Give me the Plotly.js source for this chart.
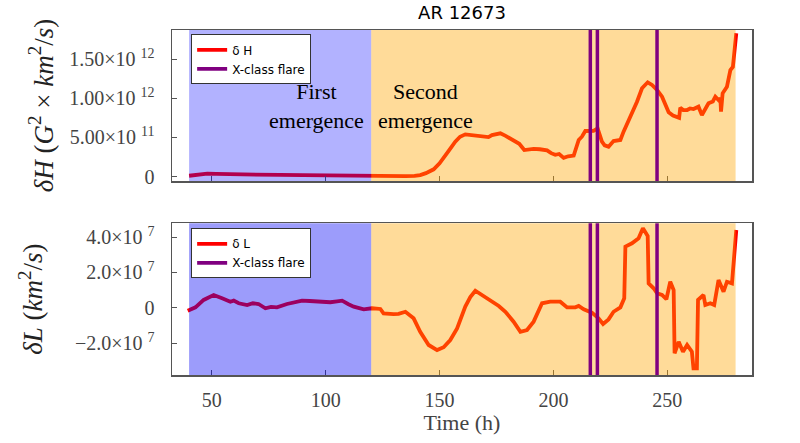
<!DOCTYPE html>
<html>
<head>
<meta charset="utf-8">
<script src="https://cdn.plot.ly/plotly-3.0.1.min.js"></script>
<style>html,body{margin:0;padding:0;background:#fff;}#chart{width:800px;height:443px;}</style>
</head>
<body>
<div id="chart"></div>
<script>
// ---- data ----
const timeH = [40,44,48,52,60,70,80,90,100,110,120,125,130,135,139,141.5,144,147.4,150,151.8,154,156.9,159,161.3,164,166.4,169,171.5,173,174.5,176.7,179,182.5,185,187.2,189,191.3,194,197.2,199,200.8,202.5,204.5,206.5,208.9,211.1,212.5,214,216,217.6,219.4,221.3,222.5,224.2,226.4,229.4,230.8,233.8,236.7,238.9,241.4,243.3,245.5,247.7,250.6,252.5,254.3,255.2,255.7,257,258.7,260,261.5,263.7,265.2,266.5,268.1,270,271.1,272.5,273.3,273.6,274.3,276.2,277,277.7,278.8,279.5,280.3];
const deltaH = [1.2e10,3.0e10,3.8e10,3.5e10,2.8e10,2.5e10,2.2e10,2.0e10,1.5e10,1.0e10,1.0e10,0.5e10,0.5e10,0.6e10,1.0e10,2.0e10,4.5e10,9.4e10,1.7e11,2.35e11,3.3e11,4.47e11,5.1e11,5.4e11,5.3e11,5.23e11,5.2e11,5.05e11,5.3e11,5.35e11,5.53e11,5.2e11,4.68e11,4.2e11,3.4e11,3.5e11,3.55e11,3.5e11,3.35e11,3.0e11,2.8e11,2.9e11,2.4e11,2.6e11,2.7e11,4.68e11,5.1e11,5.83e11,5.8e11,5.85e11,6.17e11,4.47e11,4.0e11,3.83e11,4.55e11,4.68e11,5.74e11,7.65e11,9.57e11,1.128e12,1.204e12,1.17e12,1.106e12,1.02e12,8.21e11,7.8e11,7.65e11,7.5e11,8.8e11,8.5e11,8.5e11,8.7e11,8.63e11,8.93e11,7.87e11,8.6e11,9.36e11,9.6e11,1.02e12,9.78e11,1.0e12,8.29e11,1.064e12,1.148e12,1.25e12,1.36e12,1.40e12,1.6e12,1.83e12];

const timeL = [39.4,42.8,46.4,50.8,54.5,58.1,59.6,61.8,65.5,68,70.5,73.5,76,78.6,83,86,89.6,93,96.2,99,102,105,107.2,110,112.3,116.7,120.3,124,125.4,129.8,132,135,138.6,141.5,145.2,148.9,151.8,154.7,157.7,161.3,163.5,165.7,168.6,171,173.7,176,178.9,182.5,185.5,188.4,191.3,195,198.6,201.6,203,206,209.6,211.1,213.3,216.9,219.8,221.8,224.2,226.4,229.4,231.1,231.6,234.5,237.4,239.3,241.4,241.8,244,245.5,247.7,249.6,251.3,252.8,253.2,255,256.9,258.7,260.8,261.5,263,263.5,265.9,266.7,268.9,270.6,272.5,274.7,276.2,278.4,280.3];
const deltaL = [-0.17e7,0.02e7,0.44e7,0.72e7,0.53e7,0.34e7,0.40e7,0.25e7,0.15e7,0.25e7,0.21e7,-0.03e7,0.05e7,0.02e7,0.21e7,0.30e7,0.40e7,0.38e7,0.34e7,0.33e7,0.31e7,0.36e7,0.40e7,0.20e7,0.06e7,-0.09e7,-0.03e7,-0.07e7,-0.32e7,-0.36e7,-0.35e7,-0.23e7,-0.60e7,-1.36e7,-2.11e7,-2.40e7,-2.24e7,-1.83e7,-1.17e7,0.06e7,0.60e7,0.96e7,0.72e7,0.50e7,0.25e7,0.10e7,-0.23e7,-0.79e7,-1.36e7,-1.26e7,-0.79e7,0.25e7,0.34e7,0.34e7,0.34e7,0.02e7,0.02e7,0.10e7,-0.09e7,-0.28e7,-0.60e7,-0.92e7,-0.66e7,-0.23e7,0.02e7,0.53e7,3.46e7,3.65e7,3.93e7,4.50e7,4.06e7,1.38e7,1.10e7,0.82e7,0.72e7,0.48e7,1.47e7,1.00e7,-2.58e7,-1.93e7,-2.49e7,-2.11e7,-2.49e7,-3.43e7,-3.43e7,0.44e7,0.72e7,0.15e7,0.25e7,0.15e7,1.57e7,0.91e7,1.47e7,1.38e7,4.40e7];

const flareTimes = [216.2, 219.3, 245.5];
const phaseNames = ["First<br>emergence", "Second<br>emergence"];
const phaseBounds = [40, 120, 280];
const labelX = [95.9, 143.7];

const xTickVals = [50, 100, 150, 200, 250];
const hTickVals = [0, 5e11, 1e12, 1.5e12];
const hTickText = ["0", "5.00×10 <sup>11</sup>", "1.00×10 <sup>12</sup>", "1.50×10 <sup>12</sup>"];
const lTickVals = [-2e7, 0, 2e7, 4e7];
const lTickText = ["−2.0×10 <sup>7</sup>", "0", "2.0×10 <sup>7</sup>", "4.0×10 <sup>7</sup>"];

// ---- styles ----
const SERIF = "Liberation Serif, Times New Roman, serif";
const SANS = "DejaVu Sans, sans-serif";
const RED = "rgb(255,0,0)";
const PURPLE = "rgb(128,0,128)";

const traces = [
  {x: timeH, y: deltaH, xaxis: "x", yaxis: "y", mode: "lines", name: "δ H", legend: "legend",
   line: {color: RED, width: 3.8}},
  {x: [null], y: [null], xaxis: "x", yaxis: "y", mode: "lines", name: "X-class flare", legend: "legend",
   line: {color: PURPLE, width: 3.8}},
  {x: timeL, y: deltaL, xaxis: "x2", yaxis: "y2", mode: "lines", name: "δ L", legend: "legend2",
   line: {color: RED, width: 3.8}},
  {x: [null], y: [null], xaxis: "x2", yaxis: "y2", mode: "lines", name: "X-class flare", legend: "legend2",
   line: {color: PURPLE, width: 3.8}}
];

const shapes = [];
const shadeTop = ["rgba(0,0,255,0.30)", "rgba(255,165,0,0.40)"];
const shadeBot = ["rgba(0,0,245,0.39)", "rgba(255,165,0,0.40)"];
[["x","y",shadeTop],["x2","y2",shadeBot]].forEach(([xr, yr, cols]) => {
  for (let i = 0; i < 2; i++) {
    shapes.push({type: "rect", xref: xr, yref: yr + " domain", x0: phaseBounds[i], x1: phaseBounds[i+1],
      y0: 0, y1: 1, fillcolor: cols[i], line: {width: 0}, layer: "above"});
  }
});
[["x","y"],["x2","y2"]].forEach(([xr, yr]) => {
  flareTimes.forEach(t => shapes.push({type: "line", xref: xr, yref: yr + " domain", x0: t, x1: t, y0: 0, y1: 1,
    line: {color: PURPLE, width: 3.5}, layer: "above"}));
});

const annotations = phaseNames.map((txt, i) => ({
  text: txt, x: labelX[i], y: 9.0e11, xref: "x", yref: "y", showarrow: false,
  font: {family: SERIF, size: 22, color: "#000"}
}));

const tickFont = {family: SERIF, size: 20, color: "#444"};
const axisCommon = {showline: true, linecolor: "#555", linewidth: 1.5, mirror: true,
  ticks: "inside", ticklen: 5, tickcolor: "#555", showgrid: false, zeroline: false};

const layout = {
  width: 800, height: 443,
  margin: {l: 172, r: 48, t: 30, b: 68},
  paper_bgcolor: "#fff", plot_bgcolor: "#fff",
  showlegend: true,
  title: {text: "AR 12673", x: 0.5, xref: "paper", y: 0.972, yref: "container", yanchor: "middle",
    font: {family: SANS, size: 18, color: "#000"}},
  xaxis: Object.assign({}, axisCommon, {domain: [0, 1], range: [32.5, 287.2], tickvals: xTickVals,
    showticklabels: false, anchor: "y"}),
  yaxis: Object.assign({}, axisCommon, {domain: [0.5623, 1], range: [-5.5e10, 1.871e12],
    tickvals: hTickVals, ticktext: hTickText, tickfont: tickFont, ticklabelstandoff: 12, anchor: "x",
    title: {text: "<i>δH</i> (<i>G</i><sup>2</sup> × <i>km</i><sup>2</sup>/<i>s</i>)", standoff: 8,
      font: {family: SERIF, size: 27, color: "#222"}}}),
  xaxis2: Object.assign({}, axisCommon, {domain: [0, 1], range: [32.5, 287.2], tickvals: xTickVals,
    tickfont: tickFont, anchor: "y2", matches: "x", ticklabelstandoff: 6,
    title: {text: "Time (h)", standoff: 4, font: {family: SERIF, size: 22, color: "#444"}}}),
  yaxis2: Object.assign({}, axisCommon, {domain: [0, 0.4397], range: [-3.81e7, 4.78e7],
    tickvals: lTickVals, ticktext: lTickText, tickfont: tickFont, ticklabelstandoff: 12, anchor: "x2",
    title: {text: "<i>δL</i> (<i>km</i><sup>2</sup>/<i>s</i>)", standoff: 24,
      font: {family: SERIF, size: 27, color: "#222"}}}),
  legend: {x: 0.033, y: 0.9875, xanchor: "left", yanchor: "top", bgcolor: "#fff",
    bordercolor: "#333", borderwidth: 1, font: {family: SANS, size: 12, color: "#000"}},
  legend2: {x: 0.033, y: 0.4252, xanchor: "left", yanchor: "top", bgcolor: "#fff",
    bordercolor: "#333", borderwidth: 1, font: {family: SANS, size: 12, color: "#000"}},
  shapes: shapes,
  annotations: annotations
};

Plotly.newPlot("chart", traces, layout, {staticPlot: true, displayModeBar: false});
</script>
</body>
</html>
